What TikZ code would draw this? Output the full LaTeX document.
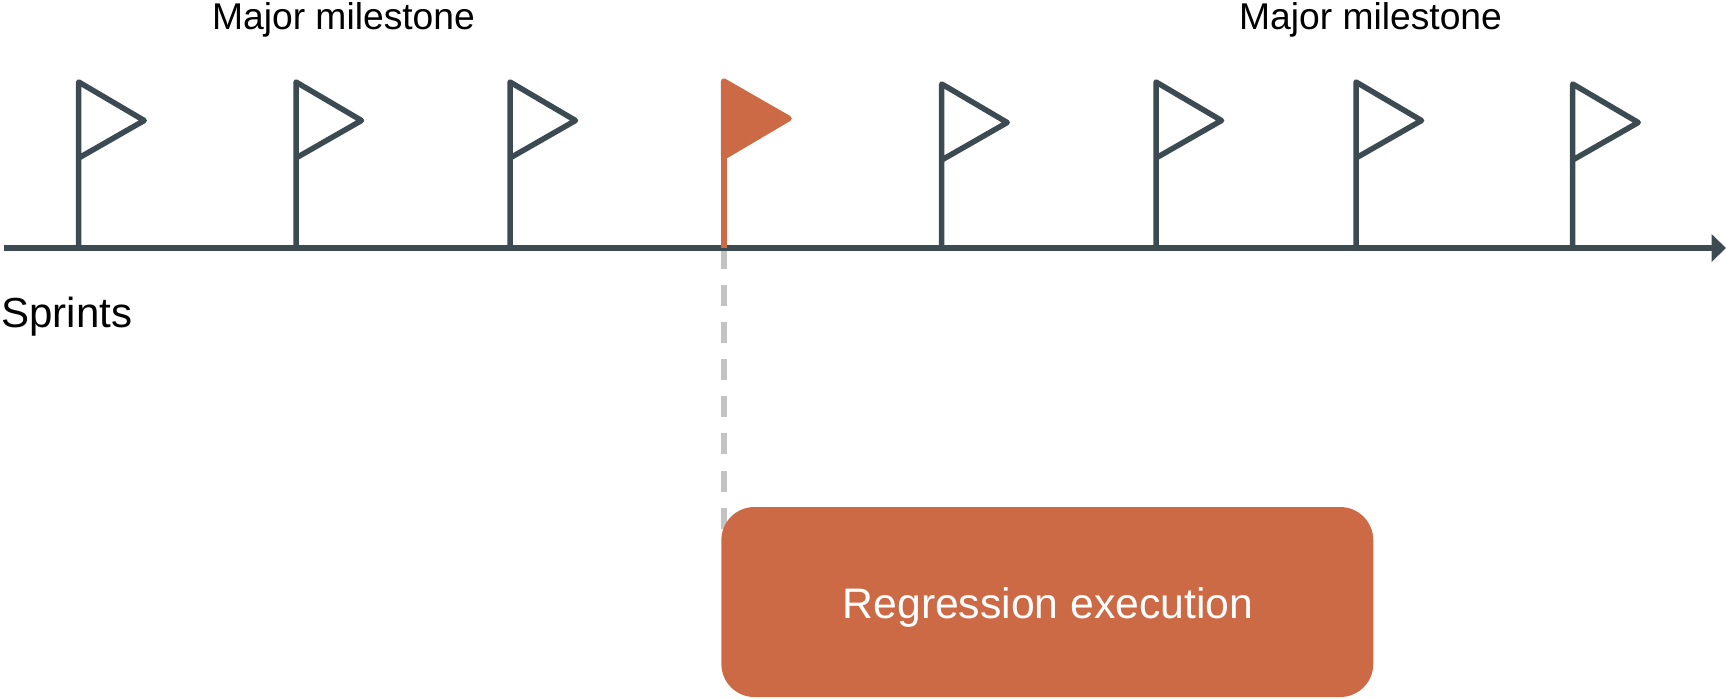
\documentclass[tikz,border=0pt]{standalone}
\usepackage{fontspec}
\setmainfont{Liberation Sans}
\usetikzlibrary{arrows.meta}
\definecolor{slateline}{HTML}{3C4A52}
\definecolor{rustfill}{HTML}{CD6A46}
\definecolor{dashgrey}{HTML}{C3C3C3}
\tikzset{
	milestonelabel/.style={inner sep=0pt, anchor=base, font=\fontsize{21.2}{25}\selectfont},
	sprintline/.style={line width=1.15mm, color=slateline},
	flagline/.style={line width=1.1mm, color=slateline, line join=round},
	gateline/.style={line width=1.15mm, color=dashgrey, dash pattern=on 0.42cm off 0.322cm}
}
\def\sprintflag[#1](#2,#3,#4){\draw[#1] (#2, #4) -- (#2, #3) -- (#2+65.5, #3+38.5) -- (#2, #3+76);}

\begin{document}
\begin{tikzpicture}[x=0.02cm, y=-0.02cm]
		%%%%% START %%%%%
		\useasboundingbox (0, 0) rectangle (1726, 698);
		
		\node[milestonelabel] (majorleft) at (343.5, 29) {Major milestone};
		\node[milestonelabel] (majorright) at (1370.5, 29) {Major milestone};
		\node[inner sep=0pt, anchor=base west, font=\fontsize{23.9}{28}\selectfont] (sprints) at (1, 327) {Sprints};
		
		\coordinate (axisstart) at (4, 248);
		\coordinate (axisend) at (1726, 248);
		\coordinate (gatetop) at (723.7, 248);
		\coordinate (gatebottom) at (723.7, 529);
		
		\draw[gateline] (gatetop) -- (gatebottom);
		\draw[sprintline, -{Triangle[length=0.29cm, width=0.54cm]}] (axisstart) -- (axisend);
		
		\sprintflag[flagline](78.7,82,248);
		\sprintflag[flagline](296,82,248);
		\sprintflag[flagline](510,82,248);
		\sprintflag[flagline](941.7,84,250);
		\sprintflag[flagline](1156,82,248);
		\sprintflag[flagline](1356,82,248);
		\sprintflag[flagline](1572.7,84,250);
		
		\draw[line width=1.1mm, color=rustfill, line join=round, fill=rustfill] (723.7, 81) -- (789, 118.5) -- (723.7, 157) -- cycle;
		\draw[line width=1.2mm, color=rustfill] (723.7, 157) -- (723.7, 248);
		
		\node[fill=rustfill, rounded corners=0.66cm, minimum width=13.04cm, minimum height=3.8cm, inner sep=0pt] (regression) at (1047.3, 602) {};
		\node[inner sep=0pt, anchor=base, text=white, font=\fontsize{24.3}{28}\selectfont] (regressionlabel) at (1048, 618) {Regression execution};
		
		%%%%% END %%%%%
	\end{tikzpicture}
\end{document}
